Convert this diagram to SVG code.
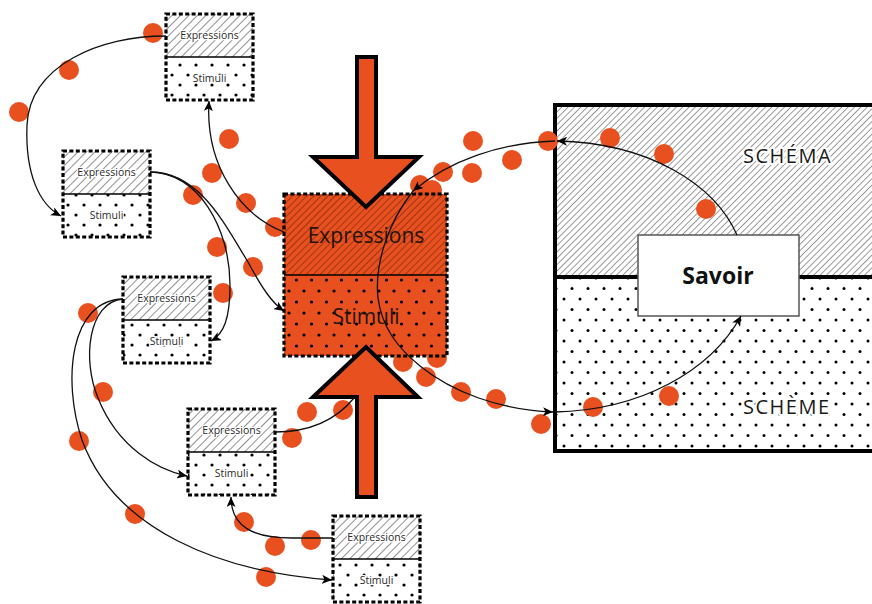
<svg xmlns="http://www.w3.org/2000/svg" width="872" height="604" viewBox="0 0 872 604">
<defs>
<style>
.sb{stroke:#000;stroke-width:3.2;stroke-dasharray:4 2.4;fill:none}
.div{stroke:#000;stroke-width:1.5}
.st{font-family:"Open Sans","Noto Sans",sans-serif;font-size:10.5px;fill:#2a2a2a;text-anchor:middle;paint-order:stroke;stroke:#fff;stroke-width:2.5px;stroke-linejoin:round}
.ct{font-family:"Open Sans","Noto Sans",sans-serif;font-size:21px;fill:#24150c;text-anchor:middle}
.big{font-family:"Open Sans","Noto Sans",sans-serif;font-size:20px;font-weight:400;fill:#1a1a1a;letter-spacing:1.5px;paint-order:stroke;stroke:#fff;stroke-width:4px;stroke-linejoin:round}
.dot{fill:#E8501F}
.con{fill:none;stroke:#111;stroke-width:1.3}
.arr{fill:#E8501F;stroke:#000;stroke-width:4;stroke-linejoin:miter}
</style>
<pattern id="hs" patternUnits="userSpaceOnUse" width="6" height="6" patternTransform="rotate(45)"><rect width="6" height="6" fill="#fff"/><line x1="0" y1="0" x2="0" y2="6" stroke="#333" stroke-width="1.1"/></pattern>
<pattern id="hb" patternUnits="userSpaceOnUse" width="4.5" height="4.5" patternTransform="rotate(45)"><line x1="0" y1="0" x2="0" y2="4.5" stroke="#222" stroke-width="0.9"/></pattern>
<pattern id="hc" patternUnits="userSpaceOnUse" width="5" height="5" patternTransform="rotate(45)"><rect width="5" height="5" fill="#E8501F"/><line x1="0" y1="0" x2="0" y2="5" stroke="#4a1606" stroke-width="0.9"/></pattern>
<pattern id="ds" patternUnits="userSpaceOnUse" width="16" height="20"><rect width="16" height="20" fill="#fff"/><circle cx="4" cy="5" r="1.6" fill="#000"/><circle cx="12" cy="15" r="1.6" fill="#000"/></pattern>
<pattern id="db" patternUnits="userSpaceOnUse" width="16" height="21"><circle cx="4" cy="5" r="1.5" fill="#000"/><circle cx="12" cy="15.5" r="1.5" fill="#000"/></pattern>
<pattern id="dc" patternUnits="userSpaceOnUse" width="15" height="22"><rect width="15" height="22" fill="#E8501F"/><circle cx="4" cy="5" r="1.6" fill="#000"/><circle cx="11.5" cy="16" r="1.6" fill="#000"/></pattern>
<marker id="ah" markerUnits="userSpaceOnUse" markerWidth="11" markerHeight="9" refX="10" refY="4.5" orient="auto"><path d="M0,0 L10,4.5 L0,9 L2.5,4.5 z" fill="#000"/></marker>
</defs>

<g id="schema-scheme">
<rect x="555" y="105" width="330" height="346" fill="#fff"/>
<rect x="555" y="105" width="330" height="172" fill="url(#hb)"/>
<rect x="555" y="277" width="330" height="174" fill="url(#db)"/>
<line x1="555" y1="277" x2="880" y2="277" stroke="#000" stroke-width="4"/>
<rect x="555" y="105" width="330" height="346" fill="none" stroke="#000" stroke-width="4"/>
<text class="big" x="743" y="163">SCHÉMA</text>
<text class="big" x="743" y="414">SCHÈME</text>
</g>

<g id="dots">
<circle class="dot" cx="153" cy="33" r="10"/><circle class="dot" cx="69" cy="70" r="10"/><circle class="dot" cx="19" cy="112" r="10"/>
<circle class="dot" cx="229" cy="139" r="10"/><circle class="dot" cx="212" cy="173" r="10"/><circle class="dot" cx="193" cy="195" r="10"/>
<circle class="dot" cx="246" cy="203" r="10"/><circle class="dot" cx="275" cy="227" r="10"/><circle class="dot" cx="217" cy="247" r="10"/>
<circle class="dot" cx="253" cy="267" r="10"/><circle class="dot" cx="223" cy="293" r="10"/><circle class="dot" cx="88" cy="313" r="10"/>
<circle class="dot" cx="103" cy="392" r="10"/><circle class="dot" cx="79" cy="441" r="10"/><circle class="dot" cx="135" cy="514" r="10"/>
<circle class="dot" cx="244" cy="522" r="10"/><circle class="dot" cx="275" cy="546" r="10"/><circle class="dot" cx="311" cy="540" r="10"/>
<circle class="dot" cx="266" cy="577" r="10"/><circle class="dot" cx="307" cy="412" r="10"/><circle class="dot" cx="343" cy="410" r="10"/>
<circle class="dot" cx="292" cy="438" r="10"/><circle class="dot" cx="473" cy="141" r="10"/><circle class="dot" cx="512" cy="160" r="10"/>
<circle class="dot" cx="443" cy="172" r="10"/><circle class="dot" cx="472" cy="173" r="10"/><circle class="dot" cx="420" cy="185" r="10"/>
<circle class="dot" cx="432" cy="190" r="10"/><circle class="dot" cx="548" cy="141" r="10"/><circle class="dot" cx="610" cy="138" r="10"/>
<circle class="dot" cx="664" cy="154" r="10"/><circle class="dot" cx="706" cy="209" r="10"/><circle class="dot" cx="403" cy="362" r="10"/>
<circle class="dot" cx="437" cy="358" r="10"/><circle class="dot" cx="426" cy="377" r="10"/><circle class="dot" cx="461" cy="392" r="10"/>
<circle class="dot" cx="496" cy="399" r="10"/><circle class="dot" cx="541" cy="424" r="10"/><circle class="dot" cx="593" cy="407" r="10"/>
<circle class="dot" cx="669" cy="396" r="10"/>
</g>

<g id="savoir">
<rect x="638" y="235" width="161" height="81" fill="#fff" stroke="#555" stroke-width="1.5"/>
<text x="718" y="284" font-family="'Open Sans','Noto Sans',sans-serif" font-size="23" font-weight="bold" fill="#111" text-anchor="middle">Savoir</text>
</g>

<g id="box1">
<rect x="166" y="14" width="87" height="43" fill="url(#hs)"/><rect x="166" y="57" width="87" height="43" fill="url(#ds)"/>
<line class="div" x1="166" y1="57" x2="253" y2="57"/><rect class="sb" x="166" y="14" width="87" height="86"/>
<text class="st" x="209.5" y="39">Expressions</text><text class="st" x="209.5" y="82">Stimuli</text>
</g>
<g id="box2">
<rect x="63" y="151" width="87" height="43" fill="url(#hs)"/><rect x="63" y="194" width="87" height="43" fill="url(#ds)"/>
<line class="div" x1="63" y1="194" x2="150" y2="194"/><rect class="sb" x="63" y="151" width="87" height="86"/>
<text class="st" x="106.5" y="176">Expressions</text><text class="st" x="106.5" y="219">Stimuli</text>
</g>
<g id="box3">
<rect x="123" y="277" width="87" height="43" fill="url(#hs)"/><rect x="123" y="320" width="87" height="43" fill="url(#ds)"/>
<line class="div" x1="123" y1="320" x2="210" y2="320"/><rect class="sb" x="123" y="277" width="87" height="86"/>
<text class="st" x="166.5" y="302">Expressions</text><text class="st" x="166.5" y="345">Stimuli</text>
</g>
<g id="box4">
<rect x="188" y="409" width="87" height="43" fill="url(#hs)"/><rect x="188" y="452" width="87" height="43" fill="url(#ds)"/>
<line class="div" x1="188" y1="452" x2="275" y2="452"/><rect class="sb" x="188" y="409" width="87" height="86"/>
<text class="st" x="231.5" y="434">Expressions</text><text class="st" x="231.5" y="477">Stimuli</text>
</g>
<g id="box5">
<rect x="333" y="516" width="87" height="43" fill="url(#hs)"/><rect x="333" y="559" width="87" height="43" fill="url(#ds)"/>
<line class="div" x1="333" y1="559" x2="420" y2="559"/><rect class="sb" x="333" y="516" width="87" height="86"/>
<text class="st" x="376.5" y="541">Expressions</text><text class="st" x="376.5" y="584">Stimuli</text>
</g>

<g id="central">
<rect x="284" y="194" width="163" height="81" fill="url(#hc)"/><rect x="284" y="275" width="163" height="81" fill="url(#dc)"/>
<line class="div" x1="284" y1="275" x2="447" y2="275"/><rect class="sb" x="284" y="194" width="163" height="162"/>
<text class="ct" x="366" y="243">Expressions</text><text class="ct" x="366" y="324">Stimuli</text>
</g>

<g id="arrow-down"><polygon class="arr" points="357,57 376,57 376,157 419,157 366,207 313,157 357,157"/></g>
<g id="arrow-up"><polygon class="arr" points="357,497 376,497 376,397 418,397 366,347 313,397 357,397"/></g>

<g id="connectors">
<path class="con" d="M166,36 C100,36 30,65 27,125 C25,175 40,205 61,216" marker-end="url(#ah)"/>
<path class="con" d="M284,232 C240,215 205,165 209,101" marker-end="url(#ah)"/>
<path class="con" d="M150,172 C200,172 225,225 248,262 C262,288 272,303 284,311" marker-end="url(#ah)"/>
<path class="con" d="M150,172 C198,172 230,228 230,285 C230,318 224,334 211,341" marker-end="url(#ah)"/>
<path class="con" d="M123,299 C88,302 82,360 98,398 C118,448 158,470 187,476" marker-end="url(#ah)"/>
<path class="con" d="M123,299 C70,300 62,380 82,440 C115,530 220,572 332,580" marker-end="url(#ah)"/>
<path class="con" d="M275,432 C310,432 336,420 354,398"/>
<path class="con" d="M333,538 L292,538 C252,538 231,526 231,497" marker-end="url(#ah)"/>
<path class="con" d="M737,235 C715,185 650,143 557,141" marker-end="url(#ah)"/>
<path class="con" d="M555,141 C500,143 450,160 413,191" marker-end="url(#ah)"/>
<path class="con" d="M413,191 C390,220 374,262 378,298 C382,328 398,348 420,366 C452,392 500,410 553,412" marker-end="url(#ah)"/>
<path class="con" d="M555,412 C640,410 710,372 741,316" marker-end="url(#ah)"/>
</g>
</svg>
